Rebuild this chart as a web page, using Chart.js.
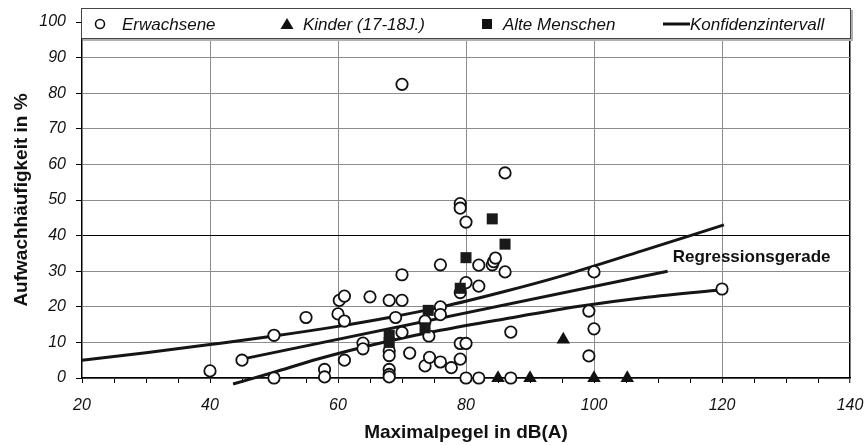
<!DOCTYPE html>
<html>
<head>
<meta charset="utf-8">
<script src="https://cdn.jsdelivr.net/npm/chart.js@4.4.0/dist/chart.umd.min.js"></script>
<style>
  body { margin: 0; background: #fff; }
</style>
</head>
<body>
<canvas id="chart" width="866" height="445"></canvas>
<script>
// Werte: [Maximalpegel dB(A), Aufwachhäufigkeit %]
const erwachsene = [
  [40, 2], [45, 5], [50, 12], [50, 0], [55, 17], [57.9, 2.4], [57.9, 0.3],
  [60, 18], [60.2, 21.8], [61, 23], [61, 16], [61, 5], [63.9, 9.8], [63.9, 8.2],
  [65, 22.8], [68, 21.8], [68, 7.6], [68, 6.3], [68, 2.4], [68, 1], [68, 0.3],
  [69, 17], [70, 82.5], [70, 29], [70, 21.8], [70, 12.8], [71.2, 7], [73.6, 16],
  [73.6, 3.4], [74.2, 11.8], [74.3, 5.8], [76, 31.8], [76, 20], [76, 17.8], [76, 4.5],
  [77.7, 2.9], [79.1, 49], [79.1, 47.7], [79.1, 24], [79.1, 9.7], [79.1, 5.3],
  [80, 43.8], [80, 26.8], [80, 9.7], [80, 0], [82, 31.7], [82, 25.8], [82, 0],
  [84.1, 31.8], [84.3, 32.7], [84.6, 33.7], [86.1, 57.6], [86.1, 29.8], [87, 12.9],
  [87, 0], [99.2, 18.8], [99.2, 6.2], [100, 29.8], [100, 13.8], [120, 25]
];
const kinder = [[85, 0], [90, 0], [95.2, 10.8], [100, 0], [105.2, 0]];
const alteMenschen = [
  [68, 12], [68, 10], [73.6, 14.1], [74.1, 19], [79.1, 25.2], [80, 33.8], [84.1, 44.7], [86.1, 37.6]
];
const regression = [[45, 5.3], [111.5, 30]];
const konfOben = [
  [20, 5], [30, 7.1], [40, 9.4], [50, 11.8], [60, 14.5], [68, 17], [76, 19.9],
  [86, 24.3], [95, 28.7], [107.5, 35.7], [120.3, 43]
];
const konfUnten = [
  [43.6, -1.7], [50, 1.6], [56, 4.9], [62, 7.8], [68, 10.4], [76, 13.4],
  [86, 16.6], [98, 20.2], [108, 22.6], [120, 24.8]
];
const xMin = 20, xMax = 140, xStep = 5, xLabelStep = 20;
const yMin = 0, yMax = 100, yStep = 10;
const legendLabels = ['Erwachsene', 'Kinder (17-18J.)', 'Alte Menschen', 'Konfidenzintervall'];
const regressionLabel = 'Regressionsgerade';

const FONT = "'Liberation Sans', Arial, Helvetica, sans-serif";
const pts = arr => arr.map(p => ({ x: p[0], y: p[1] }));

function lineSet(data) {
  return {
    type: 'line', data: pts(data), showLine: true, fill: false,
    borderColor: '#151515', borderWidth: 3, pointRadius: 0,
    cubicInterpolationMode: 'monotone', clip: false
  };
}

// Legende im Kasten oben und Beschriftung der Geraden
const extras = {
  id: 'extras',
  afterDraw(chart) {
    const ctx = chart.ctx;
    const xs = chart.scales.x, ys = chart.scales.y;
    ctx.save();
    // Schatten
    ctx.fillStyle = '#b0b0b0';
    ctx.fillRect(83, 10, 770, 31);
    ctx.fillStyle = '#fff';
    ctx.fillRect(81, 8, 770, 31);
    ctx.strokeStyle = '#444';
    ctx.lineWidth = 1;
    ctx.strokeRect(81.5, 8.5, 769, 30);

    const cy = 24;
    ctx.strokeStyle = '#111';
    // Kreis
    ctx.lineWidth = 1.6;
    ctx.beginPath(); ctx.arc(100, cy, 4.5, 0, Math.PI * 2);
    ctx.fillStyle = '#fff'; ctx.fill(); ctx.stroke();
    ctx.fillStyle = '#111';
    // Dreieck
    ctx.beginPath();
    ctx.moveTo(287, cy - 6); ctx.lineTo(293.5, cy + 5); ctx.lineTo(280.5, cy + 5);
    ctx.closePath(); ctx.fill();
    // Quadrat
    ctx.fillRect(482, cy - 5, 10, 10);
    // Linie
    ctx.lineWidth = 3;
    ctx.beginPath(); ctx.moveTo(663, cy); ctx.lineTo(690, cy); ctx.stroke();

    ctx.font = 'italic 17px ' + FONT;
    ctx.textBaseline = 'middle';
    ctx.textAlign = 'left';
    const textX = [122, 303, 503, 690];
    legendLabels.forEach((t, i) => ctx.fillText(t, textX[i], cy + 1));

    ctx.font = 'bold 17px ' + FONT;
    ctx.fillText(regressionLabel, xs.getPixelForValue(112.3), ys.getPixelForValue(33.8));
    ctx.restore();
  }
};

new Chart(document.getElementById('chart'), {
  type: 'scatter',
  data: {
    datasets: [
      {
        label: legendLabels[2], data: pts(alteMenschen), pointStyle: 'rect',
        pointRadius: 7.8, backgroundColor: '#1a1a1a', borderColor: '#1a1a1a', borderWidth: 0, clip: false
      },
      {
        label: legendLabels[1], data: pts(kinder), pointStyle: 'triangle',
        pointRadius: 7.8, backgroundColor: '#111', borderColor: '#111', borderWidth: 0, clip: false
      },
      {
        label: legendLabels[0], data: pts(erwachsene), pointStyle: 'circle',
        pointRadius: 5.7, backgroundColor: '#fff', borderColor: '#111', borderWidth: 1.8, clip: false
      },
      lineSet(regression),
      lineSet(konfOben),
      lineSet(konfUnten)
    ]
  },
  options: {
    responsive: false,
    devicePixelRatio: 1,
    animation: false,
    layout: { padding: { top: 22, right: 16, bottom: 0, left: 0 } },
    plugins: { legend: { display: false }, tooltip: { enabled: false } },
    scales: {
      x: {
        type: 'linear', min: xMin, max: xMax,
        afterFit: s => { s.height = 67; s.paddingLeft = 0; s.paddingRight = 0; },
        border: { color: '#000', width: 1.5 },
        grid: {
          color: c => {
            const v = c.tick.value;
            if (v === xMax) return '#000';
            if (v % xLabelStep === 0 && v > xMin) return '#8c8c8c';
            return 'rgba(0,0,0,0)';
          },
          lineWidth: c => c.tick.value === xMax ? 1.5 : 1,
          tickColor: '#000', tickLength: 5, tickWidth: 1
        },
        ticks: {
          stepSize: xStep, autoSkip: false, maxRotation: 0, padding: 13,
          color: '#111', font: { family: FONT, size: 16, style: 'italic' },
          callback: v => v % xLabelStep === 0 ? v : ''
        },
        title: {
          display: true, text: 'Maximalpegel in dB(A)', color: '#111',
          font: { family: FONT, size: 19, weight: 'bold' }, padding: { top: 0, bottom: 1 }
        }
      },
      y: {
        type: 'linear', min: yMin, max: yMax,
        afterFit: s => { s.width = 82; s.paddingTop = 0; s.paddingBottom = 0; },
        border: { color: '#000', width: 1.5 },
        grid: {
          color: c => c.tick.value === 40 ? '#000' : '#8c8c8c',
          lineWidth: 1,
          tickColor: '#000', tickLength: 6, tickWidth: 1
        },
        ticks: {
          stepSize: yStep, padding: 10, color: '#111',
          font: { family: FONT, size: 16, style: 'italic' }
        },
        title: {
          display: true, text: 'Aufwachhäufigkeit in %', color: '#111',
          font: { family: FONT, size: 19, weight: 'bold' }, padding: { top: 10, bottom: 0 }
        }
      }
    }
  },
  plugins: [extras]
});
</script>
</body>
</html>
